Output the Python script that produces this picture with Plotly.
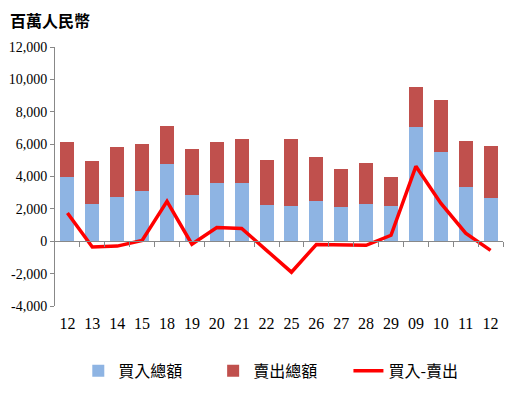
import plotly.graph_objects as go

labels = ["12", "13", "14", "15", "18", "19", "20", "21", "22", "25", "26", "27", "28", "29", "09", "10", "11", "12"]
buy_total = [3950, 2330, 2760, 3080, 4800, 2830, 3580, 3580, 2250, 2200, 2500, 2130, 2320, 2200, 7080, 5540, 3380, 2700]
grand_total = [6150, 4980, 5850, 6030, 7150, 5720, 6150, 6330, 5030, 6330, 5220, 4480, 4850, 3980, 9550, 8750, 6200, 5900]
sell_total = [g - b for g, b in zip(grand_total, buy_total)]
net = [1750, -350, -300, 50, 2470, -180, 850, 790, -560, -1910, -200, -250, -250, 370, 4630, 2350, 500, -560]

y_ticks = list(range(-4000, 12001, 2000))
y_ticktext = [f"{v:,}" for v in y_ticks]

x = list(range(len(labels)))

num_font = "Liberation Serif, Times New Roman, serif"
cjk_font = "Noto Sans CJK TC, Noto Sans CJK SC, sans-serif"

fig = go.Figure()
fig.add_trace(go.Bar(x=x, y=buy_total, name="買入總額", marker_color="#8EB4E3",
                     marker_line_width=0, legend="legend"))
fig.add_trace(go.Bar(x=x, y=sell_total, name="賣出總額", marker_color="#C0504D",
                     marker_line_width=0, legend="legend2"))
fig.add_trace(go.Scatter(x=x, y=net, name="買入-賣出", mode="lines",
                         line=dict(color="#FF0000", width=3.5), legend="legend3"))
# helper trace for the zero-line axis with category boundary ticks
fig.add_trace(go.Scatter(x=x, y=net, xaxis="x2", mode="lines", line=dict(width=0),
                         showlegend=False, hoverinfo="skip", opacity=0))

leg_font = dict(family=cjk_font, size=16, color="black")
leg_common = dict(orientation="h", y=-0.185, yanchor="top", xanchor="left", font=leg_font)

fig.update_layout(
    width=516, height=396,
    barmode="stack",
    bargap=0.44,
    plot_bgcolor="white", paper_bgcolor="white",
    margin=dict(l=47, r=21, t=39, b=98, autoexpand=False),
    xaxis=dict(range=[-0.5, len(labels) - 0.5], tickvals=x, ticktext=labels,
               showline=False, ticks="", showgrid=False, zeroline=False,
               automargin=False, ticklabelstandoff=6,
               tickfont=dict(family=num_font, size=16, color="black")),
    xaxis2=dict(overlaying="x", anchor="free", position=0.25,
                range=[-0.5, len(labels) - 0.5],
                tickvals=[i + 0.5 for i in x], showticklabels=False,
                showline=True, linecolor="#888888", linewidth=1,
                ticks="outside", ticklen=5, tickcolor="#888888",
                showgrid=False, zeroline=False, automargin=False),
    yaxis=dict(range=[-4000, 12000], tickvals=y_ticks, ticktext=y_ticktext,
               showline=True, linecolor="#888888", linewidth=1,
               ticks="outside", ticklen=4, tickcolor="#888888",
               showgrid=False, zeroline=False, automargin=False,
               tickfont=dict(family=num_font, size=14, color="black")),
    legend=dict(x=0.052, **leg_common),
    legend2=dict(x=0.353, **leg_common),
    legend3=dict(x=0.655, **leg_common),
    annotations=[dict(text="<b>百萬人民幣</b>", xref="paper", yref="paper",
                      x=-0.104, y=1.05, xanchor="left", yanchor="bottom", showarrow=False,
                      font=dict(family=cjk_font, size=16, color="black"))],
)

fig.write_html("out.html")
